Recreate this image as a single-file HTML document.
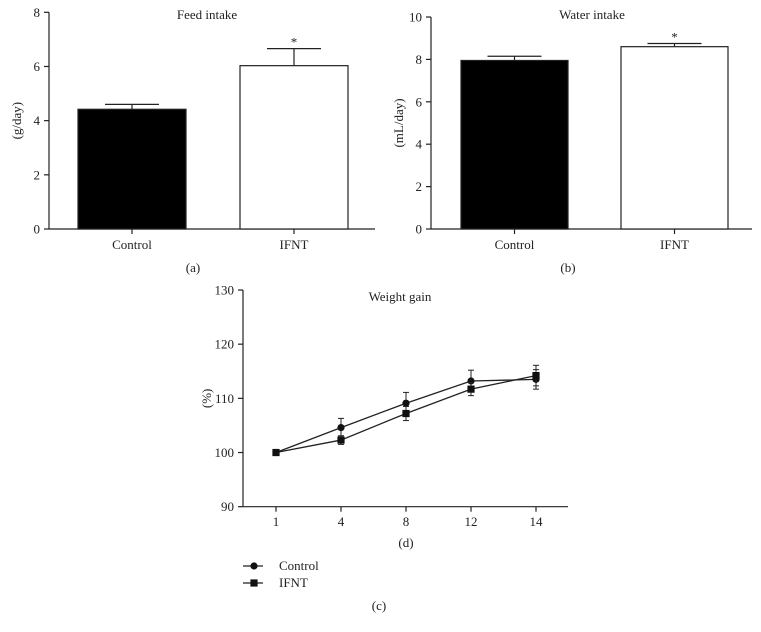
<!DOCTYPE html>
<html><head><meta charset="utf-8"><style>
html,body{margin:0;padding:0;background:#fff}
svg{display:block;font-family:"Liberation Serif",serif}
text{fill:#222}
</style></head><body>
<svg id="chart" width="761" height="632" viewBox="0 0 761 632" xmlns="http://www.w3.org/2000/svg"></svg>
<script>
const barCategories = ["Control", "IFNT"];
const feedValues = [4.42, 6.03];
const feedErrors = [0.18, 0.63];
const feedTicks = [0, 2, 4, 6, 8];
const waterValues = [7.95, 8.6];
const waterErrors = [0.2, 0.15];
const waterTicks = [0, 2, 4, 6, 8, 10];
const days = ["1", "4", "8", "12", "14"];
const controlGain = [100, 104.6, 109.1, 113.2, 113.5];
const controlErr = [0, 1.7, 2.0, 2.0, 1.8];
const ifntGain = [100, 102.3, 107.2, 111.7, 114.2];
const ifntErr = [0, 0.8, 1.3, 1.2, 1.9];
const gainTicks = [90, 100, 110, 120, 130];

const svg = document.getElementById('chart');
const NS = "http://www.w3.org/2000/svg";
function el(tag, attrs, parent, txt) {
  const e = document.createElementNS(NS, tag);
  for (const k in attrs) e.setAttribute(k, attrs[k]);
  if (txt !== undefined) e.textContent = txt;
  (parent || svg).appendChild(e);
  return e;
}
function line(g, x1, y1, x2, y2, w) {
  return el('line', {x1, y1, x2, y2, stroke: '#222', 'stroke-width': w || 1.2}, g);
}

function barChart(o) {
  const g = el('g', {});
  
  
  const yMax = o.ticks[o.ticks.length - 1];
  const y = v => o.y0 - (v / yMax) * (o.y0 - o.yTop);
  // y axis
  const ya = line(g, o.ax, o.yTop, o.ax, o.y0);
  
  
  o.ticks.forEach(t => {
    line(g, o.ax - 5, y(t), o.ax, y(t));
    const tl = el('text', {x: o.ax - 9, y: y(t) + 4.5, 'text-anchor': 'end', 'font-size': 13}, g, t);
    
    
  });
  const xa = line(g, o.ax, o.y0, o.axEnd, o.y0);
  
  
  const yt = el('text', {x: 0, y: 0, transform: `translate(${o.ax - 28},${(o.y0 + o.yTop) / 2}) rotate(-90)`, 'text-anchor': 'middle', 'font-size': 13}, g, o.yLabel);
  
  
  const tt = el('text', {x: o.titleX, y: 19, 'text-anchor': 'middle', 'font-size': 13}, g, o.title);
  
  
  barCategories.forEach((c, i) => {
    const x0 = o.bars[i], w = o.bw, cx = x0 + w / 2;
    const v = o.values[i], e = o.errors[i];
    const r = el('rect', {x: x0, y: y(v), width: w, height: o.y0 - y(v), fill: i === 0 ? '#000' : '#fff', stroke: '#222', 'stroke-width': 1.2}, g);
    
    
    line(g, cx, y(v), cx, y(v + e));
    line(g, cx - 27, y(v + e), cx + 27, y(v + e));
    line(g, cx, o.y0, cx, o.y0 + 5);
    const xl = el('text', {x: cx, y: 249, 'text-anchor': 'middle', 'font-size': 13}, g, c);
    
    
    if (i === 1) {
      const s = el('text', {x: cx, y: y(v + e) - 2, 'text-anchor': 'middle', 'font-size': 13}, g, '*');
      
      
    }
  });
  const p = el('text', {x: o.panelX, y: 272, 'text-anchor': 'middle', 'font-size': 13}, g, o.panel);
  
  
}

barChart({name: 'feed-intake-chart', ax: 49, axEnd: 375, y0: 229, yTop: 12.3, ticks: feedTicks, values: feedValues, errors: feedErrors,
  bars: [78, 240], bw: 108, yLabel: '(g/day)', title: 'Feed intake', titleX: 207, panel: '(a)', panelX: 193});
barChart({name: 'water-intake-chart', ax: 431, axEnd: 752, y0: 229, yTop: 17, ticks: waterTicks, values: waterValues, errors: waterErrors,
  bars: [461, 621], bw: 107, yLabel: '(mL/day)', title: 'Water intake', titleX: 592, panel: '(b)', panelX: 568});

// Weight gain line chart
(function () {
  const g = el('g', {});
  
  
  const ax = 243, axEnd = 568, y0 = 506.7, yTop = 290;
  const yMin = gainTicks[0], yMax = gainTicks[gainTicks.length - 1];
  const y = v => y0 - (v - yMin) / (yMax - yMin) * (y0 - yTop);
  const x = i => 276 + i * 65;
  const ya = line(g, ax, yTop, ax, y0);
  
  
  gainTicks.forEach(t => {
    line(g, ax - 5, y(t), ax, y(t));
    const tl = el('text', {x: ax - 9, y: y(t) + 4.5, 'text-anchor': 'end', 'font-size': 13}, g, t);
    
    
  });
  const xa = line(g, ax, y0, axEnd, y0);
  
  
  days.forEach((d, i) => {
    line(g, x(i), y0, x(i), y0 + 5);
    const xl = el('text', {x: x(i), y: 526, 'text-anchor': 'middle', 'font-size': 13}, g, d);
    
    
  });
  const yt = el('text', {x: 0, y: 0, transform: `translate(${ax - 32},${(y0 + yTop) / 2}) rotate(-90)`, 'text-anchor': 'middle', 'font-size': 13}, g, '(%)');
  
  
  const tt = el('text', {x: 400, y: 301, 'text-anchor': 'middle', 'font-size': 13}, g, 'Weight gain');
  
  
  const xt = el('text', {x: 406, y: 547, 'text-anchor': 'middle', 'font-size': 13}, g, '(d)');
  
  

  function series(vals, errs, marker, name) {
    const sg = el('g', {}, g);
    
    
    el('polyline', {points: vals.map((v, i) => x(i) + ',' + y(v)).join(' '), fill: 'none', stroke: '#222', 'stroke-width': 1.3}, sg);
    vals.forEach((v, i) => {
      if (errs[i] > 0) {
        line(sg, x(i), y(v - errs[i]), x(i), y(v + errs[i]), 1);
        line(sg, x(i) - 3, y(v - errs[i]), x(i) + 3, y(v - errs[i]), 1);
        line(sg, x(i) - 3, y(v + errs[i]), x(i) + 3, y(v + errs[i]), 1);
      }
      let m;
      if (marker === 'circle') m = el('circle', {cx: x(i), cy: y(v), r: 3.6, fill: '#111'}, sg);
      else m = el('rect', {x: x(i) - 3.6, y: y(v) - 3.6, width: 7.2, height: 7.2, fill: '#111'}, sg);
      
      
    });
  }
  series(controlGain, controlErr, 'circle', 'control-series');
  series(ifntGain, ifntErr, 'square', 'ifnt-series');

  const lg = el('g', {}, g);
  
  
  line(lg, 243, 566, 263, 566, 1.3);
  el('circle', {cx: 254, cy: 566, r: 3.6, fill: '#111'}, lg);
  const l1 = el('text', {x: 279, y: 570, 'font-size': 13}, lg, 'Control');
  
  
  line(lg, 243, 583, 263, 583, 1.3);
  el('rect', {x: 250.4, y: 579.4, width: 7.2, height: 7.2, fill: '#111'}, lg);
  const l2 = el('text', {x: 279, y: 587, 'font-size': 13}, lg, 'IFNT');
  
  
  const p = el('text', {x: 379, y: 610, 'text-anchor': 'middle', 'font-size': 13}, g, '(c)');
  
  
})();
</script>
</body></html>
